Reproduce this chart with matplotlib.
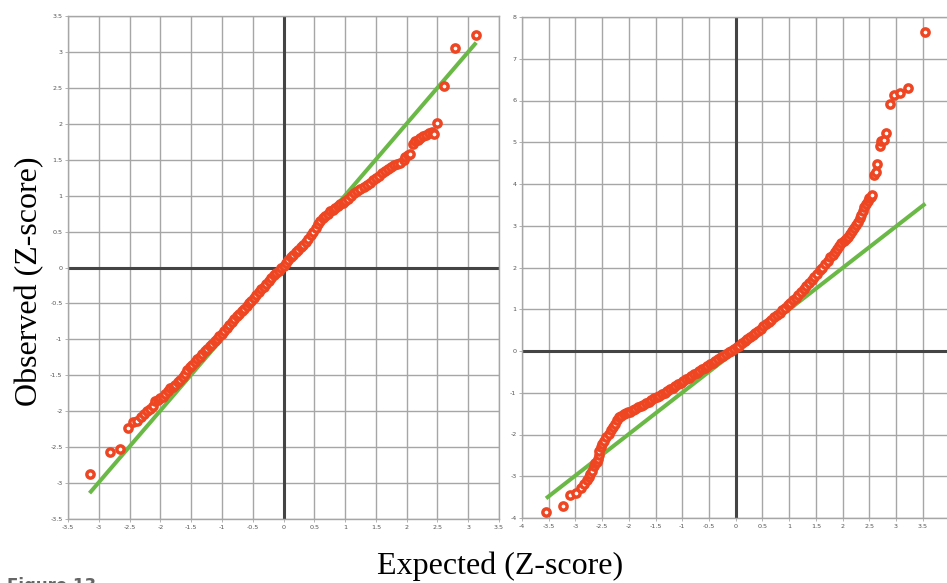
import numpy as np
import matplotlib
matplotlib.use("Agg")
import matplotlib.pyplot as plt
from matplotlib.ticker import MultipleLocator, FixedLocator, FormatStrFormatter

plt.rcParams['axes.unicode_minus'] = False

# ---- Left panel: expected vs observed z-scores ----
left_expected = [
    -3.15, -2.82, -2.65, -2.53, -2.45, -2.38, -2.32, -2.26, -2.21, -2.17, -2.12, -2.08,
    -2.04, -2.00, -1.96, -1.92, -1.88, -1.84, -1.80, -1.76, -1.72, -1.68, -1.64, -1.60,
    -1.56, -1.52, -1.48, -1.44, -1.40, -1.36, -1.32, -1.28, -1.24, -1.20, -1.16, -1.12,
    -1.08, -1.04, -1.00, -0.96, -0.92, -0.88, -0.84, -0.80, -0.76, -0.72, -0.68, -0.64,
    -0.60, -0.56, -0.52, -0.48, -0.44, -0.40, -0.36, -0.32, -0.28, -0.24, -0.20, -0.16,
    -0.12, -0.08, -0.04, 0.00, 0.04, 0.08, 0.12, 0.16, 0.20, 0.24, 0.28, 0.32, 0.36,
    0.40, 0.44, 0.48, 0.52, 0.56, 0.60, 0.64, 0.68, 0.72, 0.76, 0.80, 0.84, 0.88, 0.92,
    0.96, 1.00, 1.05, 1.10, 1.15, 1.20, 1.25, 1.30, 1.35, 1.40, 1.45, 1.50, 1.55, 1.60,
    1.65, 1.70, 1.75, 1.80, 1.85, 1.90, 1.95, 1.98, 2.02, 2.06, 2.10, 2.14, 2.18, 2.22,
    2.26, 2.31, 2.36, 2.41, 2.44, 2.50, 2.60, 2.78, 3.12,
]
left_observed = [
    -2.88, -2.57, -2.52, -2.23, -2.15, -2.14, -2.08, -2.04, -2.00, -1.97, -1.93, -1.86,
    -1.84, -1.82, -1.80, -1.76, -1.72, -1.68, -1.66, -1.64, -1.60, -1.56, -1.52, -1.48,
    -1.43, -1.39, -1.35, -1.31, -1.28, -1.24, -1.20, -1.16, -1.13, -1.09, -1.06, -1.02,
    -0.99, -0.95, -0.92, -0.88, -0.84, -0.80, -0.76, -0.72, -0.68, -0.65, -0.61, -0.58,
    -0.54, -0.50, -0.46, -0.42, -0.38, -0.34, -0.30, -0.27, -0.23, -0.19, -0.15, -0.11,
    -0.08, -0.05, -0.01, 0.02, 0.06, 0.10, 0.14, 0.18, 0.21, 0.25, 0.28, 0.31, 0.35,
    0.40, 0.45, 0.50, 0.55, 0.61, 0.65, 0.69, 0.72, 0.75, 0.78, 0.80, 0.83, 0.86, 0.88,
    0.90, 0.93, 0.96, 1.00, 1.03, 1.06, 1.09, 1.12, 1.15, 1.18, 1.22, 1.25, 1.28, 1.31,
    1.34, 1.37, 1.40, 1.42, 1.44, 1.46, 1.50, 1.54, 1.57, 1.58, 1.72, 1.76, 1.78, 1.80,
    1.83, 1.85, 1.87, 1.88, 1.86, 2.01, 2.53, 3.05, 3.24,
]
left_ref_x = [-3.15, 3.13]
left_ref_y = [-3.14, 3.13]

# ---- Right panel ----
right_expected = [
    -3.55, -3.24, -3.10, -2.98, -2.90, -2.84, -2.79, -2.75, -2.72, -2.69, -2.66, -2.63,
    -2.60, -2.57, -2.56, -2.55, -2.53, -2.50, -2.46, -2.42, -2.38, -2.34, -2.30, -2.26,
    -2.22, -2.18, -2.14, -2.10, -2.06, -2.02, -1.98, -1.93, -1.88, -1.83, -1.78, -1.73,
    -1.68, -1.63, -1.58, -1.53, -1.48, -1.43, -1.38, -1.33, -1.28, -1.23, -1.18, -1.13,
    -1.08, -1.03, -0.98, -0.93, -0.88, -0.83, -0.78, -0.73, -0.68, -0.63, -0.58, -0.53,
    -0.48, -0.43, -0.38, -0.33, -0.28, -0.23, -0.18, -0.13, -0.08, -0.03, 0.02, 0.07,
    0.12, 0.17, 0.22, 0.27, 0.32, 0.37, 0.42, 0.47, 0.52, 0.57, 0.62, 0.67, 0.72, 0.77,
    0.82, 0.87, 0.92, 0.97, 1.02, 1.07, 1.12, 1.17, 1.22, 1.27, 1.32, 1.37, 1.42, 1.47,
    1.52, 1.57, 1.62, 1.67, 1.72, 1.77, 1.82, 1.86, 1.90, 1.94, 1.98, 2.02, 2.06, 2.10,
    2.14, 2.18, 2.22, 2.26, 2.29, 2.32, 2.35, 2.38, 2.41, 2.44, 2.47, 2.50, 2.53, 2.55,
    2.58, 2.62, 2.65, 2.70, 2.72, 2.77, 2.82, 2.89, 2.97, 3.08, 3.23, 3.54,
]
right_observed = [
    -3.86, -3.71, -3.46, -3.40, -3.27, -3.18, -3.10, -3.02, -2.95, -2.88, -2.75, -2.68,
    -2.66, -2.58, -2.48, -2.40, -2.30, -2.22, -2.15, -2.07, -1.98, -1.90, -1.82, -1.74,
    -1.66, -1.58, -1.55, -1.52, -1.49, -1.47, -1.45, -1.42, -1.38, -1.35, -1.32, -1.29,
    -1.25, -1.21, -1.17, -1.13, -1.10, -1.07, -1.04, -1.00, -0.96, -0.92, -0.88, -0.84,
    -0.80, -0.76, -0.72, -0.68, -0.64, -0.60, -0.56, -0.52, -0.48, -0.44, -0.40, -0.36,
    -0.32, -0.28, -0.23, -0.19, -0.15, -0.11, -0.07, -0.03, 0.01, 0.05, 0.09, 0.13,
    0.18, 0.23, 0.28, 0.33, 0.38, 0.43, 0.48, 0.53, 0.59, 0.64, 0.70, 0.75, 0.81, 0.86,
    0.92, 0.98, 1.04, 1.10, 1.16, 1.22, 1.28, 1.34, 1.41, 1.48, 1.55, 1.62, 1.70, 1.77,
    1.85, 1.93, 2.00, 2.08, 2.16, 2.24, 2.31, 2.38, 2.45, 2.52, 2.58, 2.63, 2.68, 2.74,
    2.80, 2.87, 2.94, 3.02, 3.10, 3.18, 3.26, 3.35, 3.44, 3.52, 3.60, 3.66, 3.70, 3.74,
    4.22, 4.29, 4.48, 4.90, 5.04, 5.05, 5.23, 5.91, 6.12, 6.19, 6.31, 7.65,
]
right_ref_x = [-3.55, 3.55]
right_ref_y = [-3.53, 3.53]

POINT_RED = "#EE4622"
LINE_GREEN = "#6AB946"
GRID_GRAY = "#a6a6a6"
AXIS_DARK = "#444444"

W, H = 947, 583
fig = plt.figure(figsize=(W / 100, H / 100), dpi=100)


def px_axes(x0, x1, y0, y1):
    return fig.add_axes([x0 / W, 1 - y1 / H, (x1 - x0) / W, (y1 - y0) / H])


def style_axes(ax, xlim, ylim, xstep, ystep, xlabel_max=None):
    ax.set_xlim(*xlim)
    ax.set_ylim(*ylim)
    ax.xaxis.set_major_locator(MultipleLocator(xstep))
    ax.yaxis.set_major_locator(MultipleLocator(ystep))
    ax.xaxis.set_major_formatter(FormatStrFormatter('%g'))
    ax.yaxis.set_major_formatter(FormatStrFormatter('%g'))
    ax.grid(True, color=GRID_GRAY, linewidth=1.0)
    ax.set_axisbelow(True)
    for s in ax.spines.values():
        s.set_color(GRID_GRAY)
        s.set_linewidth(1.0)
    ax.tick_params(axis='both', labelsize=4.6, colors=GRID_GRAY, labelcolor="#555555",
                   length=2, width=0.6, pad=2)
    ax.axhline(0, color=AXIS_DARK, linewidth=2.2, zorder=1.5)
    ax.axvline(0, color=AXIS_DARK, linewidth=2.2, zorder=1.5)
    if xlabel_max is not None:
        # hide tick labels that fall beyond the figure edge
        for lbl, val in zip(ax.get_xticklabels(), ax.get_xticks()):
            if val > xlabel_max:
                lbl.set_visible(False)


def draw_panel(ax, ex, ob, rx, ry):
    ax.plot(rx, ry, color=LINE_GREEN, linewidth=2.9, solid_capstyle='butt', zorder=2)
    ax.plot(ex, ob, 'o', markersize=5.2, markerfacecolor='white',
            markeredgecolor=POINT_RED, markeredgewidth=2.5, zorder=3)


ax1 = px_axes(68, 499, 16, 519)
style_axes(ax1, (-3.5, 3.5), (-3.5, 3.5), 0.5, 0.5)
draw_panel(ax1, left_expected, left_observed, left_ref_x, left_ref_y)

ax2 = px_axes(522, 949.4, 17, 518)
style_axes(ax2, (-4, 4), (-4, 8), 0.5, 1, xlabel_max=3.6)
draw_panel(ax2, right_expected, right_observed, right_ref_x, right_ref_y)

fig.text(30 / W, 1 - 281 / H, "Observed (Z-score)", rotation=90, ha='center', va='center',
         family='Liberation Serif', fontsize=23)
fig.text(500 / W, 1 - 566 / H, "Expected (Z-score)", ha='center', va='center',
         family='Liberation Serif', fontsize=23)
fig.text(7 / W, 1 - 577 / H, "Figure 13", ha='left', va='top', family='DejaVu Sans',
         fontweight='bold', fontsize=12, color="#666666")

fig.savefig("out.png", dpi=100)
